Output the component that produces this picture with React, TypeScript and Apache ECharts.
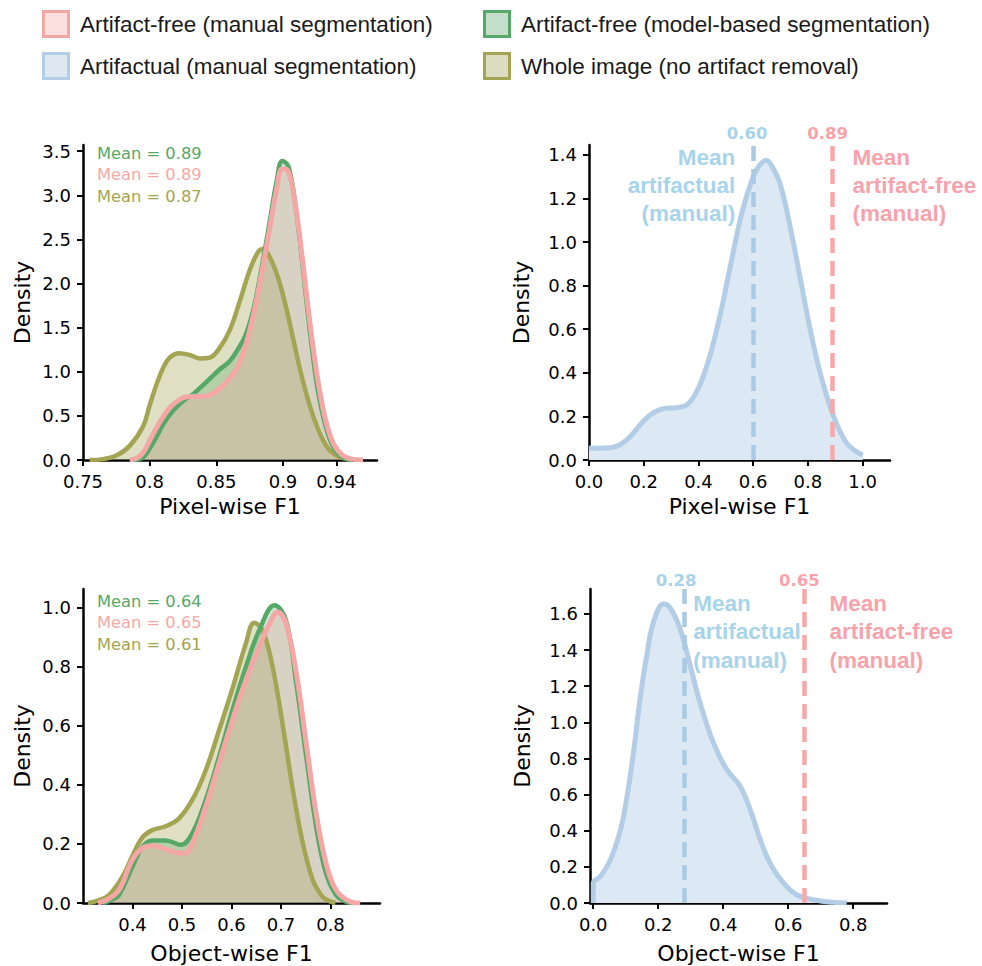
import React, { useEffect, useRef } from "react";
import * as echarts from "echarts";

// ---------------- data ----------------
const LEGEND_LABELS = [
  "Artifact-free (manual segmentation)",
  "Artifactual (manual segmentation)",
  "Artifact-free (model-based segmentation)",
  "Whole image (no artifact removal)",
];

// Pixel-wise F1 densities (left top)
const PIXEL_WHOLE: [number, number][] = [
  [0.755, 0], [0.765, 0.01], [0.775, 0.05], [0.785, 0.16], [0.795, 0.38], [0.8, 0.62],
  [0.805, 0.85], [0.81, 1.04], [0.815, 1.16], [0.822, 1.21], [0.83, 1.19], [0.838, 1.15],
  [0.845, 1.16], [0.852, 1.26], [0.86, 1.47], [0.868, 1.82], [0.875, 2.15], [0.881, 2.35],
  [0.885, 2.39], [0.89, 2.3], [0.896, 2.08], [0.902, 1.75], [0.908, 1.35], [0.914, 0.95],
  [0.92, 0.62], [0.926, 0.36], [0.932, 0.17], [0.938, 0.07], [0.945, 0.02], [0.952, 0],
];
const PIXEL_MODEL: [number, number][] = [
  [0.788, 0], [0.795, 0.03], [0.8, 0.13], [0.805, 0.26], [0.81, 0.4], [0.815, 0.51],
  [0.82, 0.6], [0.826, 0.68], [0.832, 0.74], [0.838, 0.82], [0.845, 0.92], [0.852, 1.02],
  [0.86, 1.12], [0.866, 1.25], [0.872, 1.42], [0.878, 1.72], [0.884, 2.18], [0.89, 2.7],
  [0.895, 3.14], [0.8995, 3.39], [0.904, 3.33], [0.909, 2.92], [0.914, 2.3], [0.92, 1.48],
  [0.926, 0.8], [0.932, 0.38], [0.938, 0.14], [0.945, 0.03], [0.952, 0],
];
const PIXEL_MANUAL: [number, number][] = [
  [0.785, 0], [0.79, 0.02], [0.795, 0.08], [0.8, 0.22], [0.805, 0.36], [0.81, 0.49],
  [0.815, 0.59], [0.82, 0.66], [0.826, 0.71], [0.832, 0.72], [0.84, 0.72], [0.847, 0.75],
  [0.854, 0.83], [0.86, 0.93], [0.866, 1.06], [0.872, 1.3], [0.878, 1.66], [0.884, 2.12],
  [0.89, 2.62], [0.895, 3.05], [0.8995, 3.3], [0.904, 3.27], [0.909, 2.92], [0.914, 2.35],
  [0.92, 1.58], [0.926, 0.92], [0.932, 0.45], [0.938, 0.18], [0.945, 0.05], [0.952, 0.01],
  [0.96, 0],
];
// Pixel-wise F1, artifactual regions (right top)
const PIXEL_ARTIFACTUAL: [number, number][] = [
  [0, 0.055], [0.04, 0.054], [0.08, 0.056], [0.12, 0.075], [0.16, 0.12], [0.2, 0.18],
  [0.24, 0.22], [0.28, 0.237], [0.32, 0.24], [0.36, 0.255], [0.4, 0.33], [0.44, 0.47],
  [0.48, 0.67], [0.52, 0.91], [0.56, 1.14], [0.6, 1.3], [0.625, 1.355], [0.647, 1.375],
  [0.67, 1.345], [0.7, 1.26], [0.74, 1.04], [0.78, 0.78], [0.82, 0.53], [0.86, 0.33],
  [0.9, 0.18], [0.94, 0.08], [0.97, 0.045], [1.0, 0.023],
];

// Object-wise F1 densities (left bottom)
const OBJECT_WHOLE: [number, number][] = [
  [0.31, 0], [0.33, 0.008], [0.353, 0.028], [0.38, 0.09], [0.4, 0.16], [0.42, 0.222],
  [0.44, 0.247], [0.467, 0.26], [0.494, 0.287], [0.521, 0.35], [0.548, 0.45], [0.575, 0.586],
  [0.602, 0.727], [0.629, 0.879], [0.646, 0.95], [0.663, 0.924], [0.683, 0.8], [0.704, 0.598],
  [0.724, 0.383], [0.744, 0.203], [0.764, 0.079], [0.78, 0.03], [0.791, 0.012], [0.81, 0],
];
const OBJECT_MODEL: [number, number][] = [
  [0.34, 0], [0.36, 0.012], [0.373, 0.028], [0.4, 0.124], [0.42, 0.19], [0.44, 0.212],
  [0.467, 0.212], [0.498, 0.197], [0.521, 0.237], [0.548, 0.35], [0.575, 0.496], [0.602, 0.654],
  [0.629, 0.8], [0.656, 0.924], [0.687, 1.009], [0.71, 0.958], [0.73, 0.755], [0.751, 0.496],
  [0.771, 0.259], [0.791, 0.1], [0.811, 0.028], [0.83, 0.005], [0.845, 0],
];
const OBJECT_MANUAL: [number, number][] = [
  [0.33, 0], [0.35, 0.012], [0.373, 0.045], [0.4, 0.147], [0.42, 0.186], [0.44, 0.194],
  [0.461, 0.186], [0.488, 0.171], [0.505, 0.169], [0.521, 0.203], [0.548, 0.327], [0.575, 0.474],
  [0.602, 0.62], [0.629, 0.755], [0.656, 0.868], [0.677, 0.947], [0.693, 0.986], [0.71, 0.947],
  [0.73, 0.789], [0.751, 0.541], [0.771, 0.304], [0.791, 0.135], [0.811, 0.045], [0.838, 0.006],
  [0.86, 0],
];
// Object-wise F1, artifactual regions (right bottom)
const OBJECT_ARTIFACTUAL: [number, number][] = [
  [0, 0], [0, 0.11], [0.0225, 0.148], [0.053, 0.24], [0.084, 0.406], [0.104, 0.59],
  [0.125, 0.849], [0.145, 1.144], [0.166, 1.384], [0.186, 1.559], [0.217, 1.655], [0.237, 1.633],
  [0.268, 1.513], [0.299, 1.31], [0.329, 1.107], [0.37, 0.886], [0.411, 0.738], [0.452, 0.646],
  [0.483, 0.517], [0.514, 0.351], [0.544, 0.221], [0.585, 0.111], [0.626, 0.046], [0.687, 0.015],
  [0.739, 0.004], [0.78, 0],
];

// Means: [model-based, manual artifact-free, whole image]
const PIXEL_MEANS = [0.89, 0.89, 0.87];
const OBJECT_MEANS = [0.64, 0.65, 0.61];
// Means: [artifactual manual, artifact-free manual]
const PIXEL_REF_MEANS = [0.6, 0.89];
const OBJECT_REF_MEANS = [0.28, 0.65];

// Ticks
const PIXEL_X_TICKS = [0.75, 0.8, 0.85, 0.9, 0.94];
const PIXEL_X_TICK_LABELS = ["0.75", "0.8", "0.85", "0.9", "0.94"];
const PIXEL_Y_TICKS = [0, 0.5, 1, 1.5, 2, 2.5, 3, 3.5];
const PIXEL_ART_X_TICKS = [0, 0.2, 0.4, 0.6, 0.8, 1.0];
const PIXEL_ART_Y_TICKS = [0, 0.2, 0.4, 0.6, 0.8, 1.0, 1.2, 1.4];
const OBJECT_X_TICKS = [0.4, 0.5, 0.6, 0.7, 0.8];
const OBJECT_Y_TICKS = [0, 0.2, 0.4, 0.6, 0.8, 1.0];
const OBJECT_ART_X_TICKS = [0, 0.2, 0.4, 0.6, 0.8];
const OBJECT_ART_Y_TICKS = [0, 0.2, 0.4, 0.6, 0.8, 1.0, 1.2, 1.4, 1.6];

// ---------------- styles ----------------
const C_PINK = "#f5a7a6";
const C_GREEN = "#55a868";
const C_OLIVE = "#a3a553";
const C_BLUE = "#b2cde5";
const C_BLUE_TEXT = "#a7d4ea";
const C_PINK_TEXT = "#f8a3ab";
const TICK_FONT = "DejaVu Sans";

function fmt1(v: number) {
  return v.toFixed(1);
}

function xAxisCfg(grid: number, min: number, max: number, ticks: number[], fmt: (v: number) => string, name: string, gap: number) {
  return {
    type: "value",
    gridIndex: grid,
    min,
    max,
    name,
    nameLocation: "middle",
    nameGap: gap,
    nameTextStyle: { fontFamily: TICK_FONT, fontSize: 22, color: "#000" },
    axisLine: { show: true, onZero: false, lineStyle: { color: "#000", width: 2.5 } },
    axisTick: { show: true, inside: false, length: 6, lineStyle: { color: "#000", width: 2 }, customValues: ticks },
    axisLabel: { customValues: ticks, formatter: (v: number) => fmt(v), margin: 12, fontSize: 18, fontFamily: TICK_FONT, color: "#000" },
    splitLine: { show: false },
  };
}

function yAxisCfg(grid: number, max: number, ticks: number[], gap: number) {
  return {
    type: "value",
    gridIndex: grid,
    min: 0,
    max,
    name: "Density",
    nameLocation: "middle",
    nameGap: gap,
    nameTextStyle: { fontFamily: TICK_FONT, fontSize: 22, color: "#000" },
    axisLine: { show: true, onZero: false, lineStyle: { color: "#000", width: 2.5 } },
    axisTick: { show: true, inside: false, length: 6, lineStyle: { color: "#000", width: 2 }, customValues: ticks },
    axisLabel: { customValues: ticks, formatter: (v: number) => fmt1(v), margin: 12, fontSize: 18, fontFamily: TICK_FONT, color: "#000" },
    splitLine: { show: false },
  };
}

function densitySeries(idx: number, data: [number, number][], color: string, fill: string, width: number) {
  return {
    type: "line",
    xAxisIndex: idx,
    yAxisIndex: idx,
    data,
    smooth: 0.4,
    symbol: "none",
    lineStyle: { color, width },
    areaStyle: { color: fill, opacity: 1 },
    silent: true,
  };
}

function refMarkLine(means: number[]) {
  return {
    symbol: ["none", "none"],
    silent: true,
    label: { show: false },
    lineStyle: { type: [15, 8], width: 4.5 },
    data: [
      { xAxis: means[0], lineStyle: { color: "#aac9e4", type: [15, 8], width: 4.5 } },
      { xAxis: means[1], lineStyle: { color: "#f7a8aa", type: [15, 8], width: 4.5 } },
    ],
  };
}

export default function App() {
  const ref = useRef<HTMLDivElement>(null);

  useEffect(() => {
    if (!ref.current) return;
    const chart = echarts.init(ref.current, null, { renderer: "svg" });

    const pixelFmt = (v: number) => {
      const i = PIXEL_X_TICKS.findIndex((t) => Math.abs(t - v) < 1e-9);
      return i >= 0 ? PIXEL_X_TICK_LABELS[i] : "";
    };

    const artTop = densitySeries(1, PIXEL_ARTIFACTUAL, C_BLUE, "#dce8f3", 5) as any;
    artTop.markLine = refMarkLine(PIXEL_REF_MEANS);
    const artBot = densitySeries(3, OBJECT_ARTIFACTUAL, C_BLUE, "#dce8f3", 5) as any;
    artBot.markLine = refMarkLine(OBJECT_REF_MEANS);

    const option: any = {
      animation: false,
      backgroundColor: "#fff",
      grid: [
        { left: 83, top: 145, width: 294, height: 315 },
        { left: 589, top: 145, width: 301, height: 315 },
        { left: 83, top: 589, width: 297, height: 314 },
        { left: 590, top: 589, width: 297, height: 314 },
      ],
      xAxis: [
        xAxisCfg(0, 0.75, 0.9705, PIXEL_X_TICKS, pixelFmt, "Pixel-wise F1", 35),
        xAxisCfg(1, 0, 1.1, PIXEL_ART_X_TICKS, fmt1, "Pixel-wise F1", 35),
        xAxisCfg(2, 0.3, 0.9, OBJECT_X_TICKS, fmt1, "Object-wise F1", 39),
        xAxisCfg(3, -0.01, 0.904, OBJECT_ART_X_TICKS, fmt1, "Object-wise F1", 39),
      ],
      yAxis: [
        yAxisCfg(0, 3.57, PIXEL_Y_TICKS, 49.5),
        yAxisCfg(1, 1.445, PIXEL_ART_Y_TICKS, 57),
        yAxisCfg(2, 1.064, OBJECT_Y_TICKS, 49.5),
        yAxisCfg(3, 1.738, OBJECT_ART_Y_TICKS, 57),
      ],
      series: [
        densitySeries(0, PIXEL_WHOLE, C_OLIVE, "rgba(163,165,83,0.35)", 4.5),
        densitySeries(0, PIXEL_MODEL, C_GREEN, "rgba(85,168,104,0.3)", 4.5),
        densitySeries(0, PIXEL_MANUAL, C_PINK, "rgba(245,167,166,0.3)", 5),
        artTop,
        densitySeries(2, OBJECT_WHOLE, C_OLIVE, "rgba(163,165,83,0.35)", 4.5),
        densitySeries(2, OBJECT_MODEL, C_GREEN, "rgba(85,168,104,0.3)", 4.5),
        densitySeries(2, OBJECT_MANUAL, C_PINK, "rgba(245,167,166,0.3)", 5),
        artBot,
      ],
    };
    chart.setOption(option);

    const px = (axis: number, v: number) => chart.convertToPixel({ xAxisIndex: axis }, v) as number;

    const graphics: any[] = [];
    // legend
    const legendStroke = [C_PINK, C_BLUE, C_GREEN, C_OLIVE];
    const legendFill = ["#fbe0df", "#dde8f2", "#c3dfc9", "#dcdcc0"];
    const legendPos = [
      [42, 10],
      [42, 52],
      [483, 10],
      [483, 52],
    ];
    LEGEND_LABELS.forEach((label, i) => {
      const [x, y] = legendPos[i];
      graphics.push({
        type: "rect",
        shape: { x: x + 1.5, y: y + 1.5, width: 25, height: 25 },
        style: { fill: legendFill[i], stroke: legendStroke[i], lineWidth: 3 },
      });
      graphics.push({
        type: "text",
        x: x + 38,
        y: y + 14,
        style: {
          text: label,
          fontFamily: "Liberation Sans",
          fontSize: 22.5,
          fill: "#1a1a1a",
          verticalAlign: "middle",
          align: "left",
        },
      });
    });

    // Mean texts left panels
    const meanColors = [C_GREEN, "#f7a8a8", C_OLIVE];
    const leftBlocks = [
      { means: PIXEL_MEANS, y0: 153 },
      { means: OBJECT_MEANS, y0: 601 },
    ];
    leftBlocks.forEach((b) => {
      b.means.forEach((m, i) => {
        graphics.push({
          type: "text",
          x: 97,
          y: b.y0 + i * 21.5,
          style: {
            text: `Mean = ${m.toFixed(2)}`,
            fontFamily: TICK_FONT,
            fontSize: 16.3,
            fill: meanColors[i],
            verticalAlign: "middle",
            align: "left",
          },
        });
      });
    });

    // Right-panel annotations
    const numStyle = (text: string, color: string) => ({
      text,
      fontFamily: "DejaVu Sans",
      fontWeight: "bold",
      fontSize: 16.5,
      fill: color,
      align: "center",
      verticalAlign: "middle",
    });
    const blockStyle = (text: string, color: string, align: string, lh: number) => ({
      text,
      fontFamily: "Liberation Sans",
      fontWeight: "bold",
      fontSize: 22.5,
      lineHeight: lh,
      fill: color,
      align,
      verticalAlign: "top",
    });

    // top right
    const a1 = px(1, PIXEL_REF_MEANS[0]);
    const f1 = px(1, PIXEL_REF_MEANS[1]);
    graphics.push({ type: "text", x: a1 - 6, y: 133, style: numStyle(PIXEL_REF_MEANS[0].toFixed(2), C_BLUE_TEXT) });
    graphics.push({ type: "text", x: f1 - 5, y: 133, style: numStyle(PIXEL_REF_MEANS[1].toFixed(2), C_PINK_TEXT) });
    graphics.push({ type: "text", x: a1 - 18, y: 143, style: blockStyle("Mean\nartifactual\n(manual)", C_BLUE_TEXT, "right", 28) });
    graphics.push({ type: "text", x: f1 + 20, y: 143, style: blockStyle("Mean\nartifact-free\n(manual)", C_PINK_TEXT, "left", 28) });

    // bottom right
    const a2 = px(3, OBJECT_REF_MEANS[0]);
    const f2 = px(3, OBJECT_REF_MEANS[1]);
    graphics.push({ type: "text", x: a2 - 8, y: 580, style: numStyle(OBJECT_REF_MEANS[0].toFixed(2), C_BLUE_TEXT) });
    graphics.push({ type: "text", x: f2 - 5, y: 580, style: numStyle(OBJECT_REF_MEANS[1].toFixed(2), C_PINK_TEXT) });
    graphics.push({ type: "text", x: a2 + 9, y: 589, style: blockStyle("Mean\nartifactual\n(manual)", C_BLUE_TEXT, "left", 28.5) });
    graphics.push({ type: "text", x: f2 + 25, y: 589, style: blockStyle("Mean\nartifact-free\n(manual)", C_PINK_TEXT, "left", 28.5) });

    chart.setOption({ graphic: graphics });

    return () => chart.dispose();
  }, []);

  return <div ref={ref} style={{ position: "absolute", left: 0, top: 0, width: 982, height: 966 }} />;
}
